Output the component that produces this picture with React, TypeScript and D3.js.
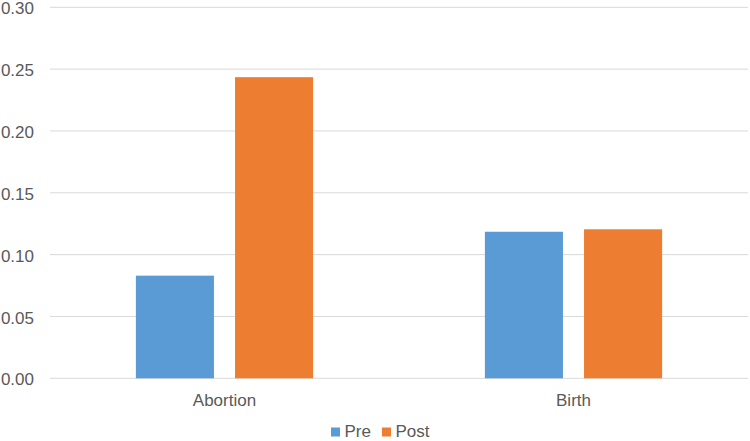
import React, { useRef, useEffect } from "react";
import * as d3 from "d3";

const categories = ["Abortion", "Birth"];
const seriesNames = ["Pre", "Post"];
const preValues = [0.083, 0.1185];
const postValues = [0.2435, 0.1205];
const yTicks = [0, 0.05, 0.1, 0.15, 0.2, 0.25, 0.3];

const colors = ["#5B9BD5", "#ED7D31"];
const WIDTH = 750;
const HEIGHT = 441;

const App: React.FC = () => {
  const svgRef = useRef<SVGSVGElement>(null);

  useEffect(() => {
    if (!svgRef.current) return;
    const svg = d3.select(svgRef.current);
    svg.selectAll("*").remove();

    const left = 50;
    const right = 748;
    const top = 7.3;
    const bottom = 378.3;
    const font = "'Liberation Sans', Arial, sans-serif";
    const textColor = "#595959";

    const y = d3.scaleLinear().domain([0, 0.3]).range([bottom, top]);
    const x = d3.scaleBand<string>().domain(categories).range([left, right]).padding(0);

    // Excel-like gap width 220%, overlap -27%
    const band = x.bandwidth();
    const barW = band / (2 + 0.27 + 2.2);
    const gap = barW * 0.27;
    const groupW = barW * 2 + gap;

    // gridlines
    svg
      .append("g")
      .selectAll("line")
      .data(yTicks)
      .join("line")
      .attr("x1", left)
      .attr("x2", right)
      .attr("y1", (d) => y(d))
      .attr("y2", (d) => y(d))
      .attr("stroke", "#D9D9D9")
      .attr("stroke-width", 1);

    // y labels
    svg
      .append("g")
      .selectAll("text")
      .data(yTicks)
      .join("text")
      .attr("x", 34)
      .attr("y", (d) => y(d))
      .attr("dy", "0.42em")
      .attr("text-anchor", "end")
      .attr("font-family", font)
      .attr("font-size", 17)
      .attr("fill", textColor)
      .text((d) => d3.format(".2f")(d));

    const series = [preValues, postValues];
    series.forEach((vals, si) => {
      svg
        .append("g")
        .selectAll("rect")
        .data(vals)
        .join("rect")
        .attr("x", (_, i) => x(categories[i])! + (band - groupW) / 2 + si * (barW + gap))
        .attr("y", (d) => y(d))
        .attr("width", barW)
        .attr("height", (d) => bottom - y(d))
        .attr("fill", colors[si]);
    });

    // category labels
    svg
      .append("g")
      .selectAll("text")
      .data(categories)
      .join("text")
      .attr("x", (d) => x(d)! + band / 2)
      .attr("y", 406)
      .attr("text-anchor", "middle")
      .attr("font-family", font)
      .attr("font-size", 17)
      .attr("fill", textColor)
      .text((d) => d);

    // legend
    const legend = svg.append("g");
    const legendX = [331, 382];
    seriesNames.forEach((name, i) => {
      legend
        .append("rect")
        .attr("x", legendX[i])
        .attr("y", 427.5)
        .attr("width", 9)
        .attr("height", 9)
        .attr("fill", colors[i]);
      legend
        .append("text")
        .attr("x", legendX[i] + 13.5)
        .attr("y", 437)
        .attr("font-family", font)
        .attr("font-size", 17)
        .attr("fill", textColor)
        .text(name);
    });
  }, []);

  return (
    <svg
      ref={svgRef}
      width={WIDTH}
      height={HEIGHT}
      style={{ position: "absolute", left: 0, top: 0, background: "#fff" }}
    />
  );
};

export default App;
